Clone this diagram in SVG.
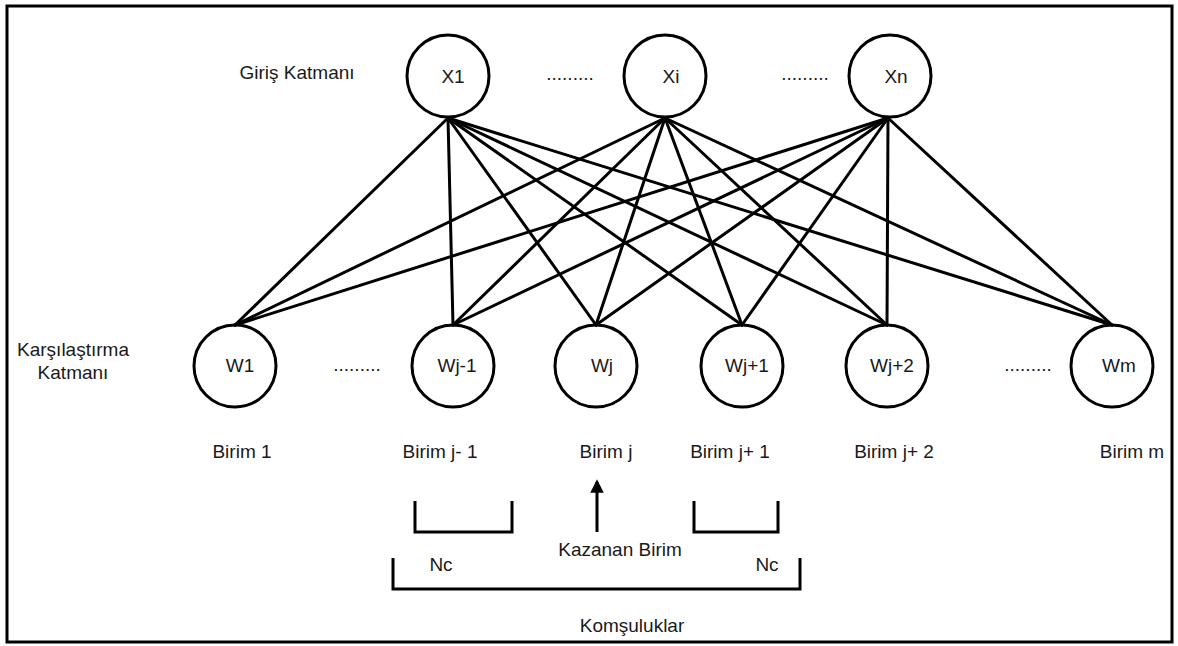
<svg xmlns="http://www.w3.org/2000/svg" width="1178" height="646" viewBox="0 0 1178 646">
  <style>
    .frame { fill: #fff; stroke: #000; stroke-width: 3; }
    .node circle { fill: none; stroke: #000; stroke-width: 3; }
    .lbl { font-family: "Liberation Sans", Arial, sans-serif; font-size: 19px; fill: #1a1a1a; }
    .mid { text-anchor: middle; }
    .links line { stroke: #000; stroke-width: 3; stroke-linecap: round; }
    .bracket { fill: none; stroke: #000; stroke-width: 3; }
  </style>
  <defs>
    <marker id="arrowHead" viewBox="0 0 10 10" refX="8" refY="5" markerWidth="4.5" markerHeight="4.5" orient="auto" markerUnits="strokeWidth">
      <path d="M0,0 L10,5 L0,10 z" fill="#000"/>
    </marker>
  </defs>

  <rect class="frame" x="7" y="6" width="1165" height="636"/>

  <!-- full connections: every input unit to every comparison unit -->
  <g id="connectors" class="links">
    <line x1="448" y1="118" x2="235" y2="325"/>
    <line x1="448" y1="118" x2="453" y2="325"/>
    <line x1="448" y1="118" x2="596" y2="325"/>
    <line x1="448" y1="118" x2="742" y2="325"/>
    <line x1="448" y1="118" x2="887" y2="325"/>
    <line x1="448" y1="118" x2="1112" y2="325"/>
    <line x1="665" y1="118" x2="235" y2="325"/>
    <line x1="665" y1="118" x2="453" y2="325"/>
    <line x1="665" y1="118" x2="596" y2="325"/>
    <line x1="665" y1="118" x2="742" y2="325"/>
    <line x1="665" y1="118" x2="887" y2="325"/>
    <line x1="665" y1="118" x2="1112" y2="325"/>
    <line x1="888" y1="118" x2="235" y2="325"/>
    <line x1="888" y1="118" x2="453" y2="325"/>
    <line x1="888" y1="118" x2="596" y2="325"/>
    <line x1="888" y1="118" x2="742" y2="325"/>
    <line x1="888" y1="118" x2="887" y2="325"/>
    <line x1="888" y1="118" x2="1112" y2="325"/>
  </g>

  <!-- input layer -->
  <g id="x1" class="node"><circle cx="448" cy="76" r="41"/><text class="lbl mid" x="453" y="83">X1</text></g>
  <g id="xi" class="node"><circle cx="665" cy="76" r="41"/><text class="lbl mid" x="671" y="83">Xi</text></g>
  <g id="xn" class="node"><circle cx="890" cy="76" r="41"/><text class="lbl mid" x="896" y="83">Xn</text></g>

  <!-- comparison layer -->
  <g id="w1" class="node"><circle cx="235" cy="366" r="41"/><text class="lbl mid" x="240" y="372">W1</text></g>
  <g id="wj-1" class="node"><circle cx="453" cy="366" r="41"/><text class="lbl mid" x="457" y="372">Wj-1</text></g>
  <g id="wj" class="node"><circle cx="596" cy="366" r="41"/><text class="lbl mid" x="602" y="372">Wj</text></g>
  <g id="wj+1" class="node"><circle cx="742" cy="366" r="41"/><text class="lbl mid" x="747" y="372">Wj+1</text></g>
  <g id="wj+2" class="node"><circle cx="887" cy="366" r="41"/><text class="lbl mid" x="892" y="372">Wj+2</text></g>
  <g id="wm" class="node"><circle cx="1112" cy="366" r="41"/><text class="lbl mid" x="1119" y="372">Wm</text></g>

  <!-- ellipses between units -->
  <g id="ellipses" class="lbl">
    <text class="mid" x="570" y="80">.........</text>
    <text class="mid" x="805" y="80">.........</text>
    <text class="mid" x="357" y="371">.........</text>
    <text class="mid" x="1028" y="371">.........</text>
  </g>

  <!-- layer titles -->
  <g id="layer-labels" class="lbl">
    <text class="mid" x="297" y="79">Giriş Katmanı</text>
    <text class="mid" x="73" y="356">Karşılaştırma</text>
    <text class="mid" x="73" y="379">Katmanı</text>
  </g>

  <!-- unit names -->
  <g id="unit-labels" class="lbl">
    <text class="mid" x="242" y="458">Birim 1</text>
    <text class="mid" x="440" y="458">Birim j- 1</text>
    <text class="mid" x="606" y="458">Birim j</text>
    <text class="mid" x="730" y="458">Birim j+ 1</text>
    <text class="mid" x="894" y="458">Birim j+ 2</text>
    <text class="mid" x="1132" y="458">Birim m</text>
  </g>

  <!-- winner and neighbourhoods -->
  <g id="neighbourhood">
    <line x1="597" y1="532" x2="597" y2="482" stroke="#000" stroke-width="3" marker-end="url(#arrowHead)"/>
    <path class="bracket" d="M415,501 V532 H512 V501"/>
    <path class="bracket" d="M694,501 V532 H778 V501"/>
    <path class="bracket" d="M393,558 V589 H800 V558"/>
    <text class="lbl mid" x="620" y="556">Kazanan Birim</text>
    <text class="lbl mid" x="441" y="571">Nc</text>
    <text class="lbl mid" x="767" y="571">Nc</text>
    <text class="lbl mid" x="632" y="632">Komşuluklar</text>
  </g>
</svg>
